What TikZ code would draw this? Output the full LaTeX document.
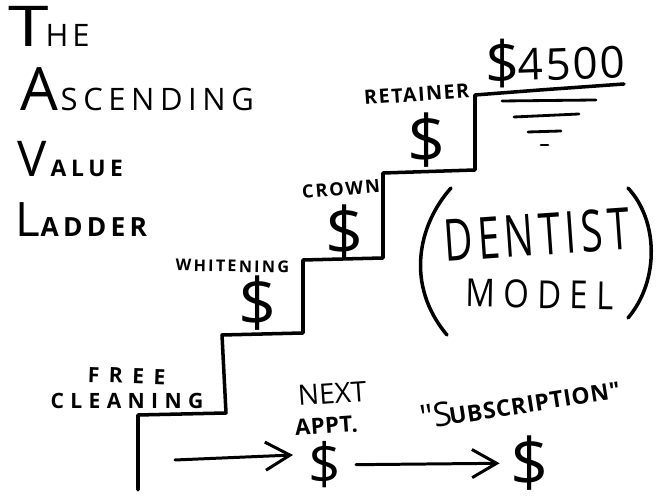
\documentclass[tikz,border=0pt]{standalone}
\usepackage{fontspec}
\usepackage{graphicx}
\usepackage{tikz}
\usetikzlibrary{arrows.meta,calc,positioning}
\newfontfamily\handfont{Open Sans}
\newcommand{\hand}[2]{\fontsize{#1}{#1}\handfont\addfontfeature{LetterSpace=#2}}
\newcommand{\handb}[2]{\fontsize{#1}{#1}\handfont\bfseries\addfontfeature{LetterSpace=#2}}

\begin{document}
\begin{tikzpicture}[x=0.01cm,y=-0.01cm]

  \tikzstyle{lettering} = [inner sep=0pt,anchor=base west,text=black]
  \tikzstyle{money} = [inner sep=0pt,text=black,font=\hand{19}{0}]
  \tikzstyle{stairline} = [line width=1pt,line cap=round,line join=round]
  \tikzstyle{hline} = [line width=0.8pt,line cap=round]
  \tikzstyle{brack} = [line width=1pt,line cap=round]
  \tikzstyle{flow} = [line width=0.85pt,line cap=round,-{Straight Barb[length=7pt,width=8pt,line width=0.85pt]}]

  \useasboundingbox (0,0) rectangle (657,498);

  % title
  \node[lettering,font=\hand{16}{0}] (titleT) at (8,47) {\scalebox{1.3}[1]{T}};
  \node[lettering,font=\hand{8.8}{12}] (titleHE) at (45,47) {HE};
  \node[lettering,font=\hand{17}{0}] (titleA) at (20,111) {A};
  \node[lettering,font=\hand{8.8}{18}] (titleB) at (60,111) {SCENDING};
  \node[lettering,font=\handb{6.5}{20}] (titleC) at (50,177) {ALUE};
  \node[lettering,font=\hand{14}{0}] (titleV) at (17,177) {V};
  \node[lettering,font=\hand{13.5}{0}] (titleL) at (15,237) {L};
  \node[lettering,font=\handb{7.5}{16}] (titleD) at (40,237) {ADDER};

  % stairs
  \draw[stairline] (138,490) -- (138,415) -- (226,413) -- (222,335) -- (303,333) -- (303,260)
    -- (383,258) -- (383,173) -- (475,170) -- (475,95) -- (540,90) -- (624,84);

  % top of the ladder
  \node[lettering,font=\hand{17}{0}] (topprice) at (485,85) {\$};
  \node[lettering,font=\hand{12.5}{5},rotate=2] (topdigits) at (518,81) {4500};
  \draw[hline] (502,101) -- (596,100);
  \draw[hline] (514,117) -- (579,114);
  \draw[hline] (528,132) -- (561,131);
  \draw[hline] (541,145) -- (548,145);

  % steps
  \node[lettering,font=\handb{5.6}{8},rotate=4] (retainer) at (364,105) {RETAINER};
  \node[lettering,font=\handb{5.2}{10},rotate=5] (crown) at (302,199) {CROWN};
  \node[lettering,font=\handb{4.6}{14},rotate=-1] (whitening) at (175,271) {WHITENING};
  \node[lettering,font=\handb{6}{45},rotate=-2] (free) at (87,382) {FREE};
  \node[lettering,font=\handb{6}{30}] (cleaning) at (50,409) {CLEANING};

  \foreach \stepname/\x/\y in {A/258/303,B/345/232,C/427/140} {
    \node[money] (dollar\stepname) at (\x,\y) {\$};
  }

  % bottom row
  \node[lettering,font=\hand{8}{0},rotate=4] (next) at (298,406) {NEXT};
  \node[lettering,font=\handb{6.3}{2},rotate=4] (appt) at (295,436) {APPT.};
  \node[lettering,font=\hand{9.5}{0},rotate=9] (subS) at (422,430) {"S};
  \node[lettering,font=\handb{6.5}{3},rotate=9] (subR) at (450,425) {UBSCRIPTION"};

  \node[money] (dollarNext) at (325,465) {\scalebox{0.85}{\$}};
  \node[money] (dollarSub) at (530,463) {\$};
  \coordinate (flowstart) at (175,460);
  \draw[flow] (flowstart) -- (293,455);
  \draw[flow,shorten <=4pt,shorten >=3pt] (dollarNext) -- (dollarSub);

  % model note
  \node[lettering,font=\hand{15}{12},rotate=4] (dentist) at (445,262) {\scalebox{0.75}[1.1]{DENTIST}};
  \node[lettering,font=\hand{11}{25},rotate=-1] (model) at (465,307) {\scalebox{0.85}[1]{MODEL}};
  \draw[brack] (451,188) .. controls (418,225) and (405,285) .. (447,335);
  \draw[brack] (628,188) .. controls (658,220) and (660,280) .. (628,318);

\end{tikzpicture}
\end{document}
